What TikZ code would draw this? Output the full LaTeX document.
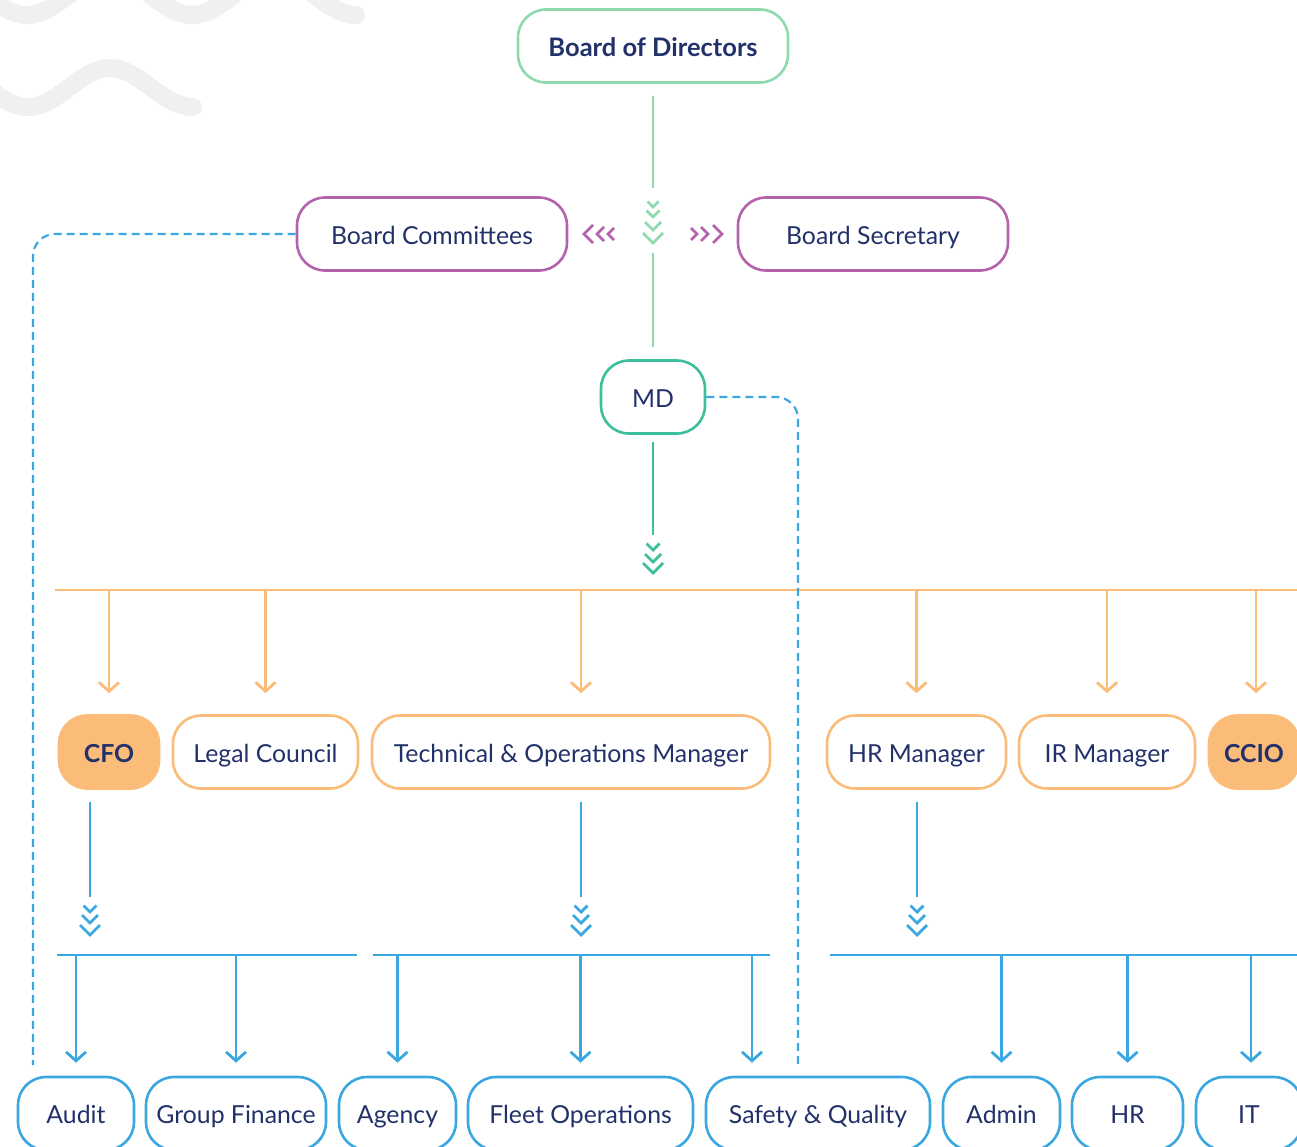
\documentclass[tikz,border=0pt]{standalone}
\usepackage{fontspec}
\setmainfont{Lato}
\usetikzlibrary{arrows.meta}
\definecolor{navy}{HTML}{22316A}
\definecolor{cgreen}{HTML}{8ED9AE}
\definecolor{cpurple}{HTML}{B462AC}
\definecolor{cteal}{HTML}{3DBE9C}
\definecolor{corange}{HTML}{FBBB79}
\definecolor{cblue}{HTML}{3BA7E0}
\definecolor{cwave}{HTML}{F0F0F0}
\begin{document}
\begin{tikzpicture}[x=1pt,y=-1pt,
  box/.style={draw, line width=2.6pt, rounded corners=28pt, minimum height=73pt, inner sep=0pt,
    text height=20pt, text depth=0pt, text=navy, font=\fontsize{24.8}{28}\selectfont},
  gbox/.style={box, draw=cgreen},
  pbox/.style={box, draw=cpurple},
  tbox/.style={box, draw=cteal},
  obox/.style={box, draw=corange},
  ofill/.style={box, draw=corange, fill=corange, font=\fontsize{24.8}{28}\selectfont\bfseries},
  bbox/.style={box, draw=cblue},
  gline/.style={cgreen, line width=2.8pt},
  tline/.style={cteal, line width=2.8pt},
  oline/.style={corange, line width=2.8pt},
  bline/.style={cblue, line width=2.8pt},
  otip/.style={oline, -{Straight Barb[length=9pt,width=20pt,line join=miter]}},
  btip/.style={bline, -{Straight Barb[length=9pt,width=20pt,line join=miter]}},
  dline/.style={cblue, line width=2.2pt, dash pattern=on 8pt off 5pt, rounded corners=22pt},
  chev/.style={line width=2.8pt, line join=miter, line cap=butt},
  wave/.style={cwave, line width=18pt, line cap=round}
]
\useasboundingbox (0,0) rectangle (1297,1146);
\clip (0,0) rectangle (1297,1146);

% background waves
\draw[wave] (-55,-24) cos (-14,-4.5) sin (27,15) cos (68,-4.5) sin (110,-24) cos (151,-4.5) sin (192,15) cos (233,-4.5) sin (274,-24) cos (315,-4.5) sin (356,15);
\draw[wave] (-54,68) cos (-13,87.5) sin (28,107) cos (69,87.5) sin (110,68) cos (151,87.5) sin (193,107);

% top nodes
\node[gbox, minimum width=270pt, font=\fontsize{25.5}{28}\selectfont\bfseries] (bod) at (653,46) {Board of Directors};
\node[pbox, minimum width=270pt] (bc) at (432,234) {Board Committees};
\node[pbox, minimum width=270pt] (bs) at (873,234) {Board Secretary};
\node[tbox, minimum width=104pt] (md) at (653,397) {MD};

% second row
\node[ofill, minimum width=100pt] (cfo) at (109,752) {CFO};
\node[obox, minimum width=185pt] (legal) at (265.5,752) {Legal Council};
\node[obox, minimum width=398pt] (tech) at (571,752) {Technical \& Operations Manager};
\node[obox, minimum width=179pt] (hrm) at (916.5,752) {HR Manager};
\node[obox, minimum width=176pt] (irm) at (1107,752) {IR Manager};
\node[ofill, minimum width=90pt] (ccio) at (1254,752) {CCIO};

% bottom row
\node[bbox, minimum width=116pt] (audit) at (76,1113.5) {Audit};
\node[bbox, minimum width=180pt] (gfin) at (236,1113.5) {Group Finance};
\node[bbox, minimum width=117pt] (agency) at (397.5,1113.5) {Agency};
\node[bbox, minimum width=225pt] (fleet) at (580.5,1113.5) {Fleet Operations};
\node[bbox, minimum width=224pt] (safety) at (818,1113.5) {Safety \& Quality};
\node[bbox, minimum width=117pt] (admin) at (1001.5,1113.5) {Admin};
\node[bbox, minimum width=111pt] (hr) at (1127.5,1113.5) {HR};
\node[bbox, minimum width=106pt] (it) at (1249,1113.5) {IT};

% green trunk with chevrons
\coordinate (g1) at (653,188);
\coordinate (g2) at (653,253);
\draw[gline, shorten <=12pt] (bod.south) -- (g1);
\draw[gline, shorten >=12pt] (g2) -- (md.north);
\foreach \t/\a in {207/5.5, 217/6.5, 230/8, 243/10}
  \draw[chev, cgreen] ({653-\a},{\t-\a}) -- (653,\t) -- ({653+\a},{\t-\a});
% purple side chevrons
\foreach \t/\a in {584/9, 597/7, 608/6}
  \draw[chev, cpurple] ({\t+\a},{234-\a}) -- (\t,234) -- ({\t+\a},{234+\a});
\foreach \t/\a in {697/6, 708/7, 722/9}
  \draw[chev, cpurple] ({\t-\a},{234-\a}) -- (\t,234) -- ({\t-\a},{234+\a});

% teal trunk
\coordinate (t1) at (653,535);
\draw[tline, shorten <=7pt] (md.south) -- (t1);
\foreach \t/\a in {550/6.5, 562/8, 573/10}
  \draw[chev, cteal] ({653-\a},{\t-\a}) -- (653,\t) -- ({653+\a},{\t-\a});

% orange bus
\coordinate (ob1) at (55,590);
\coordinate (ob2) at (1300,590);
\draw[oline] (ob1) -- (ob2);
\draw[otip, shorten >=21pt] (cfo.north |- ob1) -- (cfo.north);
\draw[otip, shorten >=21pt] (legal.north |- ob1) -- (legal.north);
\draw[otip, shorten >=21pt] ([xshift=10pt]tech.north |- ob1) -- ([xshift=10pt]tech.north);
\draw[otip, shorten >=21pt] (hrm.north |- ob1) -- (hrm.north);
\draw[otip, shorten >=21pt] (irm.north |- ob1) -- (irm.north);
\draw[otip, shorten >=21pt] ([xshift=2pt]ccio.north |- ob1) -- ([xshift=2pt]ccio.north);

% blue trunks
\coordinate (bt1) at (90,897);
\coordinate (bt2) at (581,897);
\coordinate (bt3) at (917,897);
\draw[bline, shorten <=12pt] (cfo.south -| bt1) -- (bt1);
\draw[bline, shorten <=12pt] (tech.south -| bt2) -- (bt2);
\draw[bline, shorten <=12pt] (hrm.south -| bt3) -- (bt3);
\foreach \x in {90,581,917}
  \foreach \t/\a in {912/6.5, 923/8, 935/10}
    \draw[chev, cblue] ({\x-\a},{\t-\a}) -- (\x,\t) -- ({\x+\a},{\t-\a});

% blue buses
\coordinate (bb1a) at (57,955);  \coordinate (bb1b) at (357,955);
\coordinate (bb2a) at (373,955); \coordinate (bb2b) at (770,955);
\coordinate (bb3a) at (830,955); \coordinate (bb3b) at (1300,955);
\draw[bline] (bb1a) -- (bb1b);
\draw[bline] (bb2a) -- (bb2b);
\draw[bline] (bb3a) -- (bb3b);
\draw[btip, shorten >=13pt] (audit.north |- bb1a) -- (audit.north);
\draw[btip, shorten >=13pt] (gfin.north |- bb1a) -- (gfin.north);
\draw[btip, shorten >=13pt] (agency.north |- bb2a) -- (agency.north);
\draw[btip, shorten >=13pt] (fleet.north |- bb2a) -- (fleet.north);
\draw[btip, shorten >=13pt] ([xshift=-66pt]safety.north |- bb2a) -- ([xshift=-66pt]safety.north);
\draw[btip, shorten >=13pt] (admin.north |- bb3a) -- (admin.north);
\draw[btip, shorten >=13pt] (hr.north |- bb3a) -- (hr.north);
\draw[btip, shorten >=13pt] ([xshift=2pt]it.north |- bb3a) -- ([xshift=2pt]it.north);

% dashed links
\coordinate (d1) at (33,1065);
\coordinate (d2) at (798,1065);
\draw[dline] (bc.west) -| (d1);
\draw[dline] (md.east) -| (d2);
\end{tikzpicture}
\end{document}
